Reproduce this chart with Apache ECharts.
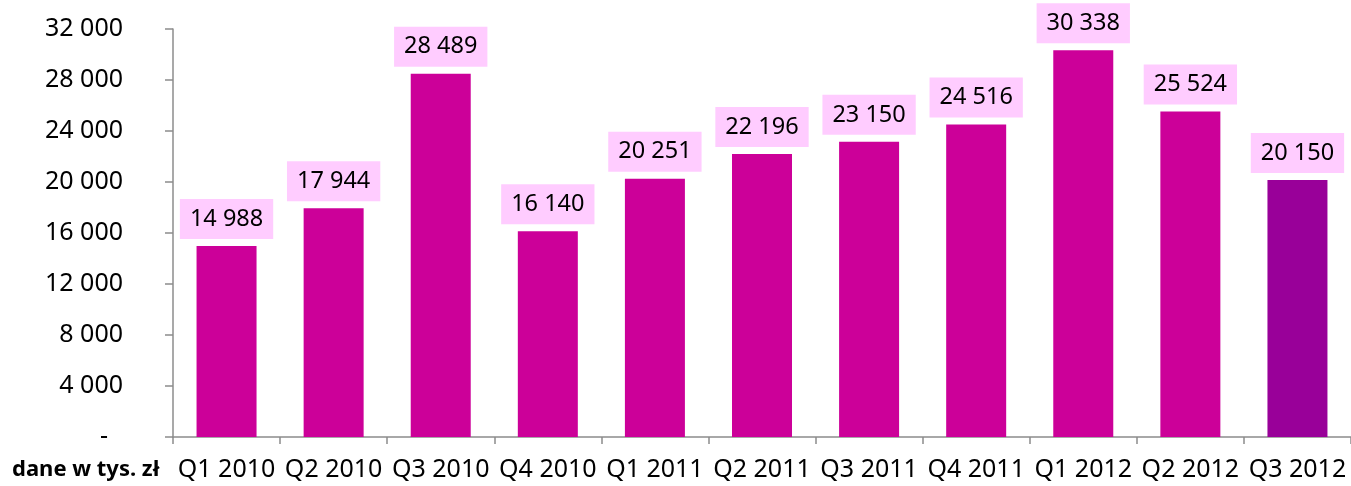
<!DOCTYPE html>
<html><head><meta charset="utf-8">
<script src="https://cdn.jsdelivr.net/npm/echarts@6/dist/echarts.min.js"></script>
<style>html,body{margin:0;padding:0;background:#fff}#c{width:1351px;height:486px}</style>
</head><body><div id="c"></div>
<script>
const categories = ['Q1 2010','Q2 2010','Q3 2010','Q4 2010','Q1 2011','Q2 2011','Q3 2011','Q4 2011','Q1 2012','Q2 2012','Q3 2012'];
const values = [14988, 17944, 28489, 16140, 20251, 22196, 23150, 24516, 30338, 25524, 20150];
const barColors = ['#CC0099','#CC0099','#CC0099','#CC0099','#CC0099','#CC0099','#CC0099','#CC0099','#CC0099','#CC0099','#990099'];
const unitLabel = 'dane w tys. zł';

function fmt(v){ return String(v).replace(/\B(?=(\d{3})+(?!\d))/g,' '); }
const FONT = '"Noto Sans", sans-serif';
const chart = echarts.init(document.getElementById('c'));
chart.setOption({
  animation:false,
  grid:{left:173, right:0, top:29, bottom:49, containLabel:false},
  xAxis:{type:'category', data:categories,
    axisLine:{lineStyle:{color:'#8c8c8c', width:1.5}},
    axisTick:{show:true, interval:0, length:7, lineStyle:{color:'#8c8c8c', width:1.5}},
    axisLabel:{interval:0, color:'#000', fontFamily:FONT, fontSize:25, margin:20}},
  yAxis:{type:'value', min:0, max:32000, interval:4000,
    splitLine:{show:false},
    axisLine:{show:true, lineStyle:{color:'#8c8c8c', width:1.5}},
    axisTick:{show:true, length:8, lineStyle:{color:'#8c8c8c', width:1.5}},
    axisLabel:{color:'#000', fontFamily:FONT, fontSize:25, margin:50,
      formatter:v=> v===0 ? '{d|-}' : fmt(v),
      rich:{d:{fontFamily:FONT, fontSize:25, color:'#000', padding:[0,15,0,0]}}}},
  series:[{type:'bar', barWidth:60,
    data: values.map((v,i)=>({value:v, itemStyle:{color:barColors[i]}})),
    label:{show:true, position:'top', distance:7, formatter:p=>fmt(p.value),
      color:'#000', fontFamily:FONT, fontSize:23.5, lineHeight:24,
      backgroundColor:'#FFCCFF', padding:[8,10]}}],
  graphic:[{type:'text', left:12, top:459,
    style:{text:unitLabel, font:'bold 22px "Noto Sans", sans-serif', fill:'#000'}}]
});
</script></body></html>
